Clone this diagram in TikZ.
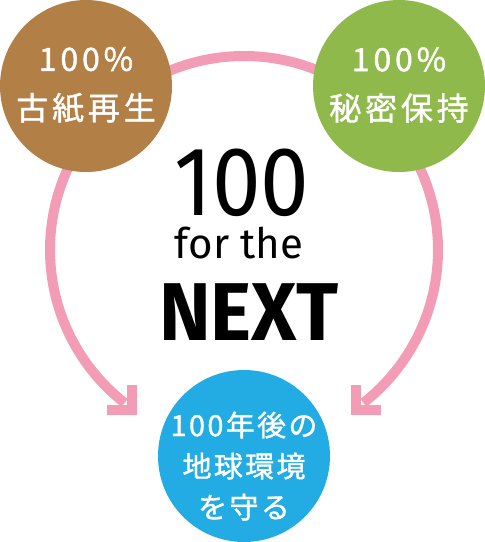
\documentclass[tikz,border=0pt]{standalone}
\usepackage{fontspec}
\newfontfamily\jp[LetterSpace=12,FakeBold=1.2]{Noto Sans CJK JP}
\newfontfamily\jpb[LetterSpace=8,FakeBold=1.2]{Noto Sans CJK JP}
\newfontfamily\lat{Fira Sans}
\definecolor{cbrown}{HTML}{B27F47}
\definecolor{cgreen}{HTML}{8FB94A}
\definecolor{cblue}{HTML}{22ACE3}
\definecolor{cpink}{HTML}{F29DB5}
\usetikzlibrary{calc}
\begin{document}
\begin{tikzpicture}[x=1pt,y=-1pt,
  bubble/.style={circle,minimum size=172pt,inner sep=0pt},
  ctext/.style={text=white,align=center,font=\jp\fontsize{32}{49}\selectfont},
  ring/.style={draw=cpink,line width=10pt},
  chev/.style={draw=cpink,line width=10pt,line join=miter,line cap=butt},
  big/.style={inner sep=0pt,anchor=base,text height=0.7em,text depth=0pt}]
\useasboundingbox (0,0) rectangle (485,542);
\coordinate (O) at (244,250);
% ring connectors
\draw[ring] (O) ++(270:194) coordinate (top) arc[start angle=270,end angle=128,radius=194] coordinate (endL);
\draw[ring] (top) arc[start angle=270,end angle=412,radius=194] coordinate (endR);
\coordinate (tipL) at (132,410);
\coordinate (tipR) at (356,410);
\draw[chev] ($(tipL)+(0,-25)$) -- (tipL) -- ++(-25,0);
\draw[chev] ($(tipR)+(0,-25)$) -- (tipR) -- ++(25,0);
% circles
\node[bubble,fill=cbrown] (recycle) at (86,86) {};
\node[bubble,fill=cgreen] (secure) at (399,86) {};
\node[bubble,fill=cblue] (earth) at (244,456) {};
\node[ctext] (recycleT) at (86,85) {100\%\\古紙再生};
\node[ctext] (secureT) at (399,85) {100\%\\秘密保持};
\node[ctext,font=\jpb\fontsize{29}{41}\selectfont] (earthT) at (244,466) {100年後の\\地球環境\\を守る};
% central text
\node[big,font=\lat\fontsize{98}{98}\selectfont,xscale=0.89] (hundred) at (242,215) {100};
\node[big,font=\lat\fontsize{42}{42}\selectfont] (forthe) at (239,258) {for the};
\node[big,font=\lat\bfseries\fontsize{82}{82}\selectfont,xscale=0.95] (next) at (249,340) {NEXT};
\end{tikzpicture}
\end{document}
